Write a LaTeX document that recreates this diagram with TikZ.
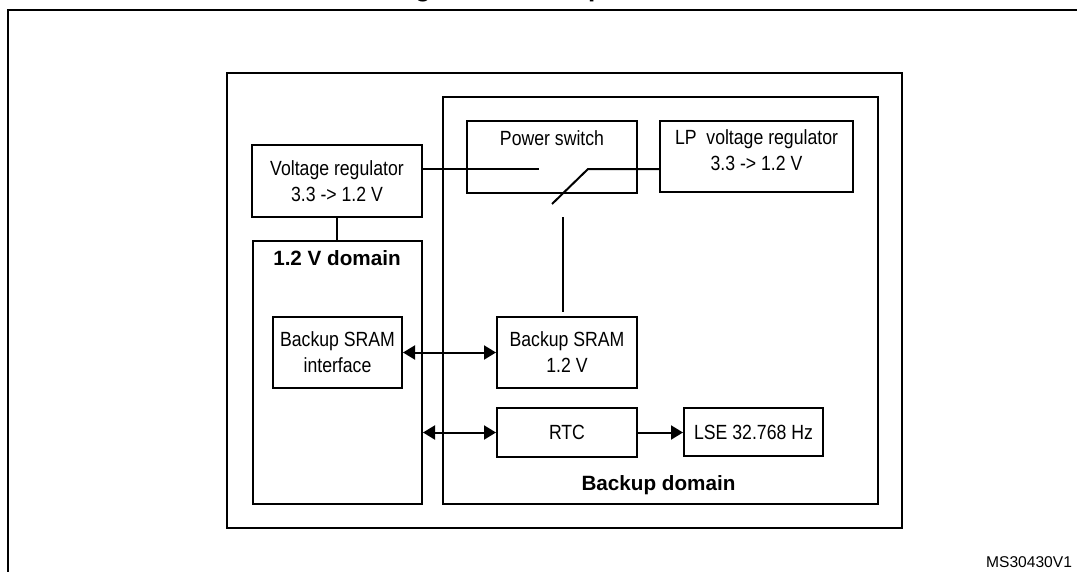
\documentclass[tikz,border=0pt]{standalone}
\usepackage{fontspec}
\setmainfont{Liberation Sans}[FakeStretch=0.86]
\newfontfamily\headfont{Liberation Sans}
\usetikzlibrary{arrows.meta}

\begin{document}
\begin{tikzpicture}[x=0.75pt, y=-0.75pt, line width=1.5pt, >={Triangle[length=9pt,width=10.5pt]}]
\useasboundingbox (0,0) rectangle (1077,571);
\clip (0,0) rectangle (1077,571);
\tikzstyle{every node} = [font=\fontsize{15.4}{19.5}\selectfont]
\tikzstyle{box} = [draw, rectangle, inner sep=0pt, align=center]
\tikzstyle{head} = [inner sep=0pt, anchor=base, font=\headfont\bfseries\fontsize{15.5}{18}\selectfont]
% title and outer frames
\node[head, anchor=base west, font=\headfont\bfseries\fontsize{19.5}{22}\selectfont] (title) at (391,-3.5) {Figure 5. Backup domain};
\draw (7.5,620) -- (7.5,10) -- (1120,10);
\node[box, minimum width=506.25pt, minimum height=341.25pt] (sys) at (564.5,300.5) {};
\node[box, minimum width=326.25pt, minimum height=305.25pt] (bk) at (660.5,300.5) {};
\node[box, minimum width=126.75pt, minimum height=197.25pt] (dom) at (337.5,372.5) {};
\node[head] (domt) at (337,265) {1.2 V domain};
\node[head] (bkt) at (658.5,490) {Backup domain};
% blocks
\node[box, minimum width=127.5pt, minimum height=54pt] (vr) at (337,181) {Voltage regulator\\3.3 -> 1.2 V};
\node[box, minimum width=127.5pt, minimum height=54pt] (ps) at (552,157) {};
\node[inner sep=0pt, anchor=base] (pst) at (552,145) {Power switch};
\node[box, minimum width=144.75pt, minimum height=53.25pt] (lp) at (756.5,156.5) {};
\node[inner sep=0pt, align=center] (lpt) at (756.5,150.5) {LP\ \ voltage regulator\\3.3 -> 1.2 V};
\node[box, minimum width=96.75pt, minimum height=53.25pt] (sif) at (337.5,352.5) {Backup SRAM\\interface};
\node[box, minimum width=105pt, minimum height=53.25pt] (sram) at (567,352.5) {Backup SRAM\\1.2 V};
\node[box, minimum width=105pt, minimum height=36.75pt] (rtc) at (567,432.5) {RTC};
\node[box, minimum width=104.25pt, minimum height=36pt] (lse) at (753.5,432) {LSE 32.768 Hz};
\node[anchor=base east, inner sep=0pt, font=\headfont\fontsize{11.7}{14}\selectfont] (tag) at (1073,567.5) {MS30430V1};
% switch
\coordinate (s1) at (539,169);
\coordinate (s2) at (588,169);
\coordinate (s3) at (552,204);
\coordinate (s4) at (563,217);
\draw (vr.east |- s1) -- (s1);
\draw (s3) -- (s2) -- (lp.west |- s2);
\draw (s4) -- ([yshift=3pt]s4 |- sram.north);
% links
\draw (vr.south) -- (vr.south |- dom.north);
\draw[<->] (sif) -- (sram);
\draw[<->] (dom.east |- rtc.west) -- (rtc.west);
\draw[->] (rtc.east) -- (lse.west |- rtc.east);
\end{tikzpicture}
\end{document}
